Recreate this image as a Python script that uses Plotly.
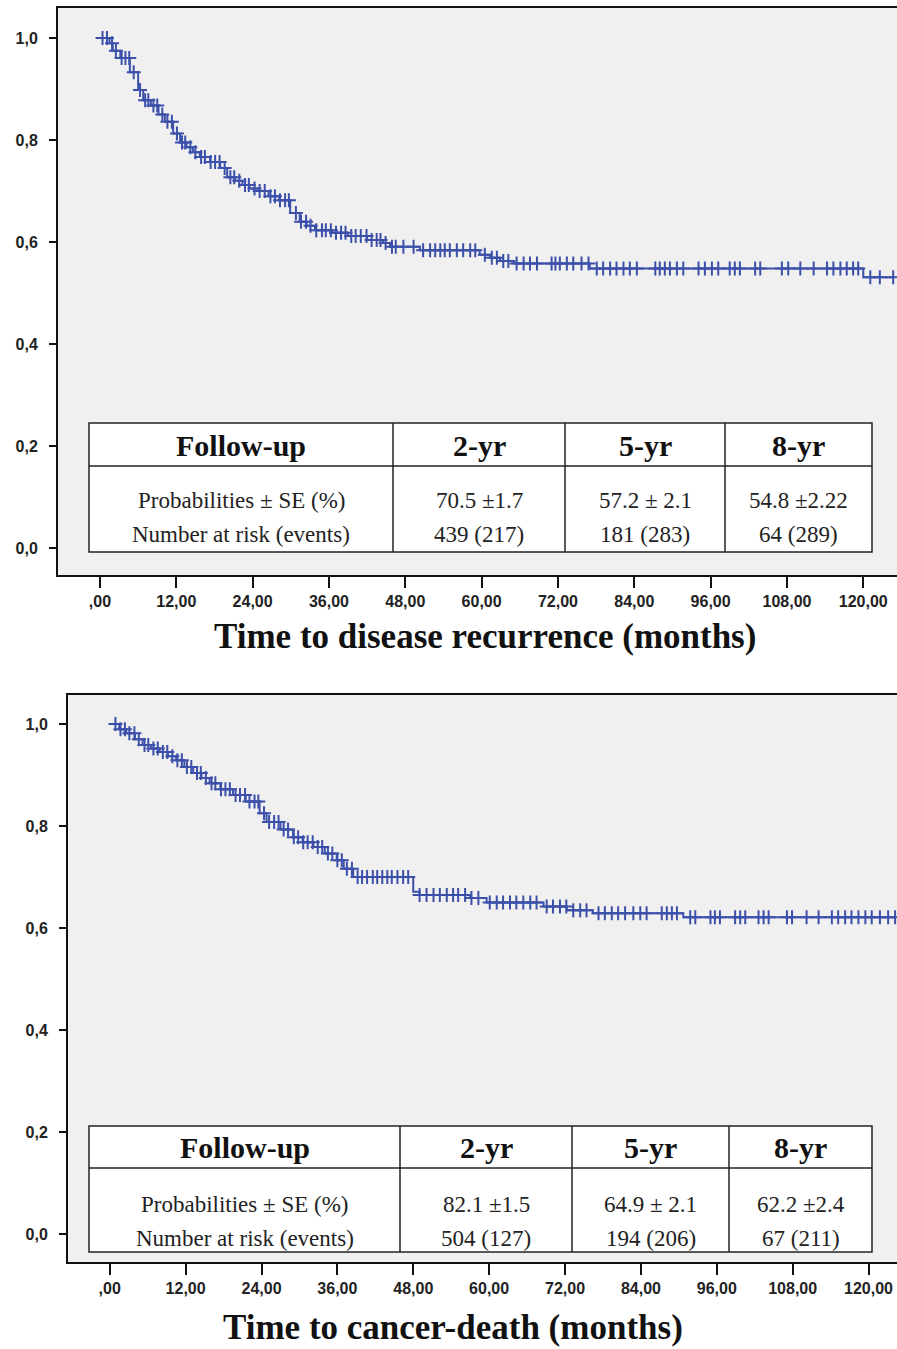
import numpy as np
import plotly.graph_objects as go

# ---------------- data ----------------
# Panel 1: time to disease recurrence
rec_step_t = [0, 1.5, 2.0, 3.2, 4.7, 6.0, 6.8, 8.0, 9.2, 10.2, 11.5, 12.6, 13.6, 14.6, 15.7, 17.3,
              18.9, 20.0, 21.2, 22.4, 23.5, 25.0, 26.5, 28.2, 29.9, 31.4, 32.5, 33.8, 36.5, 39.0,
              42.0, 44.5, 45.6, 50.3, 59.7, 61.3, 62.9, 65.0, 77.0, 120.0]
rec_step_s = [1.0, 0.99, 0.975, 0.961, 0.933, 0.898, 0.878, 0.868, 0.85, 0.836, 0.813, 0.795, 0.786,
              0.776, 0.767, 0.757, 0.745, 0.727, 0.72, 0.712, 0.705, 0.700, 0.69, 0.682, 0.657, 0.64,
              0.632, 0.623, 0.618, 0.612, 0.604, 0.598, 0.591, 0.584, 0.575, 0.569, 0.563, 0.558,
              0.548, 0.531]
rec_censored = [0.4, 1.1, 1.9, 2.5, 3.4, 4.0, 4.6, 5.3, 6.3, 7.1, 7.6, 8.4, 9.0, 9.8, 10.6, 11.3,
                12.1, 12.9, 13.4, 14.2, 15.0, 15.9, 16.5, 17.4, 18.1, 18.8, 19.6, 20.5, 21.1, 21.9,
                22.8, 23.4, 24.3, 25.1, 25.9, 26.8, 27.5, 28.3, 29.1, 29.7, 30.8, 31.6, 32.4, 33.1,
                34.0, 34.9, 35.5, 36.3, 37.1, 37.9, 38.6, 39.5, 40.2, 41.0, 41.9, 42.7, 43.5, 44.1,
                44.9, 45.9, 46.5, 47.7, 49.3, 50.8, 51.9, 52.7, 53.5, 54.2, 55.0, 56.1, 57.1, 58.2,
                59.0, 60.5, 61.6, 62.4, 63.4, 64.2, 65.5, 66.6, 67.6, 68.7, 71.0, 71.6, 72.3, 73.4,
                74.4, 75.7, 76.8, 78.1, 79.1, 80.2, 81.2, 82.3, 83.3, 84.4, 87.3, 88.0, 88.8, 89.6,
                90.7, 91.7, 94.1, 95.1, 96.2, 97.2, 99.0, 99.8, 100.6, 103.0, 103.8, 107.2, 108.2,
                110.1, 112.2, 114.3, 115.3, 116.4, 117.4, 118.4, 119.2, 121.1, 122.6, 124.7]

# Panel 2: time to cancer death
dth_step_t = [0, 1.5, 2.6, 4.0, 5.2, 6.5, 7.9, 9.2, 10.5, 11.8, 13.2, 14.5, 15.8, 17.5, 19.5, 21.5,
              23.7, 24.8, 27.0, 29.0, 30.5, 32.2, 34.0, 35.9, 37.0, 38.5, 48.0, 49.0, 57.0, 59.6,
              68.6, 72.3, 76.4, 90.7]
dth_step_s = [1.0, 0.99, 0.982, 0.97, 0.959, 0.952, 0.945, 0.937, 0.929, 0.916, 0.904, 0.894, 0.884,
              0.872, 0.861, 0.848, 0.825, 0.808, 0.793, 0.778, 0.768, 0.759, 0.746, 0.733, 0.716,
              0.700, 0.671, 0.665, 0.659, 0.650, 0.642, 0.635, 0.629, 0.621]
dth_censored = [0.9, 1.7, 2.4, 3.1, 3.9, 4.6, 5.5, 6.1, 6.9, 7.6, 8.4, 9.1, 9.9, 10.7, 11.4, 12.2,
                12.9, 13.8, 14.4, 15.2, 16.1, 16.7, 17.6, 18.3, 19.0, 19.9, 20.6, 21.4, 22.1, 22.9,
                23.5, 24.4, 25.2, 26.0, 26.7, 27.5, 28.2, 29.1, 29.8, 30.6, 31.3, 32.1, 32.9, 33.6,
                34.5, 35.2, 36.0, 36.7, 37.5, 38.3, 39.2, 39.9, 40.7, 41.6, 42.3, 43.1, 43.9, 44.6,
                45.5, 46.4, 47.2, 49.0, 50.1, 51.2, 52.2, 53.3, 54.3, 55.1, 56.2, 57.2, 58.3, 60.1,
                61.2, 62.2, 63.3, 64.3, 65.4, 66.5, 67.5, 69.1, 70.1, 71.2, 72.2, 73.3, 74.4, 75.4,
                77.3, 78.3, 79.4, 80.4, 81.5, 82.8, 83.9, 84.9, 87.3, 88.1, 88.9, 89.7, 91.8, 92.6,
                95.0, 95.7, 96.5, 98.9, 99.7, 100.5, 102.6, 103.4, 104.2, 107.1, 107.9, 110.2, 112.1,
                114.2, 115.2, 116.3, 117.3, 118.4, 119.5, 120.5, 121.8, 123.1, 124.2]

x_tickvals = [0, 12, 24, 36, 48, 60, 72, 84, 96, 108, 120]
x_ticktext = [",00", "12,00", "24,00", "36,00", "48,00", "60,00", "72,00", "84,00", "96,00",
              "108,00", "120,00"]
y_tickvals = [0.0, 0.2, 0.4, 0.6, 0.8, 1.0]
y_ticktext = ["0,0", "0,2", "0,4", "0,6", "0,8", "1,0"]

table_header = ["Follow-up", "2-yr", "5-yr", "8-yr"]
row_labels = ["Probabilities \u00b1 SE (%)", "Number at risk (events)"]
rec_prob = ["70.5 \u00b11.7", "57.2 \u00b1 2.1", "54.8 \u00b12.22"]
rec_risk = ["439 (217)", "181 (283)", "64 (289)"]
dth_prob = ["82.1 \u00b11.5", "64.9 \u00b1 2.1", "62.2 \u00b12.4"]
dth_risk = ["504 (127)", "194 (206)", "67 (211)"]

titles = ["Time to disease recurrence (months)", "Time to cancer-death (months)"]

# ---------------- figure ----------------
W, H = 897, 1349
BLUE = "#3c50aa"


def px(xp):
    return xp / W


def py(yp):
    return 1 - yp / H


fig = go.Figure()


def add_curve(step_t, step_s, cens, xa, ya):
    st = np.array(step_t)
    ss = np.array(step_s)
    c = np.array(cens)
    end_t = max(c.max(), st.max())
    lx = list(st) + [end_t]
    ly = list(ss) + [ss[-1]]
    fig.add_trace(go.Scatter(x=lx, y=ly, mode="lines", line=dict(color=BLUE, width=2, shape="hv"),
                             xaxis=xa, yaxis=ya, showlegend=False, hoverinfo="skip"))
    cy = ss[np.searchsorted(st, c, side="right") - 1]
    fig.add_trace(go.Scatter(x=c, y=cy, mode="markers",
                             marker=dict(symbol="cross-thin", size=10, line=dict(color=BLUE, width=2)),
                             xaxis=xa, yaxis=ya, showlegend=False, hoverinfo="skip"))


add_curve(rec_step_t, rec_step_s, rec_censored, "x", "y")
add_curve(dth_step_t, dth_step_s, dth_censored, "x2", "y2")

tickfont = dict(family="Liberation Sans, Arial", size=16, color="#222", weight="bold")

# panel geometry (pixels)
panels = [
    dict(left=58, top=8, bottom=575, xr=[-6.6, 125.3], yr=[-0.053, 1.059]),
    dict(left=68, top=695, bottom=1262, xr=[-6.6, 124.5], yr=[-0.055, 1.057]),
]

for i, p in enumerate(panels):
    sfx = "" if i == 0 else "2"
    fig.update_layout(**{
        "xaxis" + sfx: dict(domain=[px(p["left"]), 1.0], range=p["xr"], anchor="y" + sfx,
                            tickvals=x_tickvals, ticktext=x_ticktext, ticks="outside", ticklen=11,
                            tickwidth=2, tickcolor="#111", showline=True, linewidth=2,
                            linecolor="#111", mirror=True, showgrid=False, zeroline=False,
                            tickfont=tickfont, ticklabelstandoff=0),
        "yaxis" + sfx: dict(domain=[py(p["bottom"]), py(p["top"])], range=p["yr"],
                            anchor="x" + sfx, tickvals=y_tickvals, ticktext=y_ticktext,
                            ticks="outside", ticklen=7, tickwidth=2, tickcolor="#111",
                            showline=True, linewidth=2, linecolor="#111", showgrid=False,
                            zeroline=False, tickfont=tickfont, ticklabelstandoff=8),
    })

# ---------------- tables ----------------
shapes = []
annotations = []
tables = [
    dict(left=89, right=872, top=423, mid=466, bottom=552, cols=[393, 565, 725],
         hdr_y=445, r1=500, r2=534, prob=rec_prob, risk=rec_risk),
    dict(left=89, right=872, top=1126, mid=1168, bottom=1252, cols=[400, 572, 729],
         hdr_y=1147, r1=1204, r2=1238, prob=dth_prob, risk=dth_risk),
]
LC = "#222"
for t in tables:
    shapes.append(dict(type="rect", xref="paper", yref="paper", x0=px(t["left"]), x1=px(t["right"]),
                       y0=py(t["bottom"]), y1=py(t["top"]), fillcolor="white",
                       line=dict(color=LC, width=1.5), layer="above"))
    shapes.append(dict(type="line", xref="paper", yref="paper", x0=px(t["left"]), x1=px(t["right"]),
                       y0=py(t["mid"]), y1=py(t["mid"]), line=dict(color=LC, width=1.5)))
    for cx in t["cols"]:
        shapes.append(dict(type="line", xref="paper", yref="paper", x0=px(cx), x1=px(cx),
                           y0=py(t["bottom"]), y1=py(t["top"]), line=dict(color=LC, width=1.5)))
    edges = [t["left"]] + t["cols"] + [t["right"]]
    centers = [(edges[k] + edges[k + 1]) / 2 for k in range(4)]
    for k, h in enumerate(table_header):
        annotations.append(dict(x=px(centers[k]), y=py(t["hdr_y"]), xref="paper", yref="paper",
                                text="<b>%s</b>" % h, showarrow=False, xanchor="center",
                                yanchor="middle",
                                font=dict(family="Liberation Serif, Times New Roman", size=30,
                                          color="#111")))
    row_vals = [[row_labels[0]] + t["prob"], [row_labels[1]] + t["risk"]]
    for r, yy in enumerate([t["r1"], t["r2"]]):
        for k in range(4):
            annotations.append(dict(x=px(centers[k]), y=py(yy), xref="paper", yref="paper",
                                    text=row_vals[r][k], showarrow=False, xanchor="center",
                                    yanchor="middle",
                                    font=dict(family="Liberation Serif, Times New Roman", size=23,
                                              color="#222")))

# ---------------- titles ----------------
for txt, (xc, yc) in zip(titles, [(485, 636), (453, 1327)]):
    annotations.append(dict(x=px(xc), y=py(yc), xref="paper", yref="paper", text="<b>%s</b>" % txt,
                            showarrow=False, xanchor="center", yanchor="middle",
                            font=dict(family="Liberation Serif, Times New Roman", size=35,
                                      color="#111")))

fig.update_layout(width=W, height=H, margin=dict(l=0, r=0, t=0, b=0), paper_bgcolor="white",
                  plot_bgcolor="#f0f0f0", shapes=shapes, annotations=annotations,
                  showlegend=False)

fig.write_html("out.html", config={"displayModeBar": False},
               post_script="document.body.style.margin='0';"
                           "document.body.style.padding='0';"
                           "document.body.style.overflow='hidden';")
